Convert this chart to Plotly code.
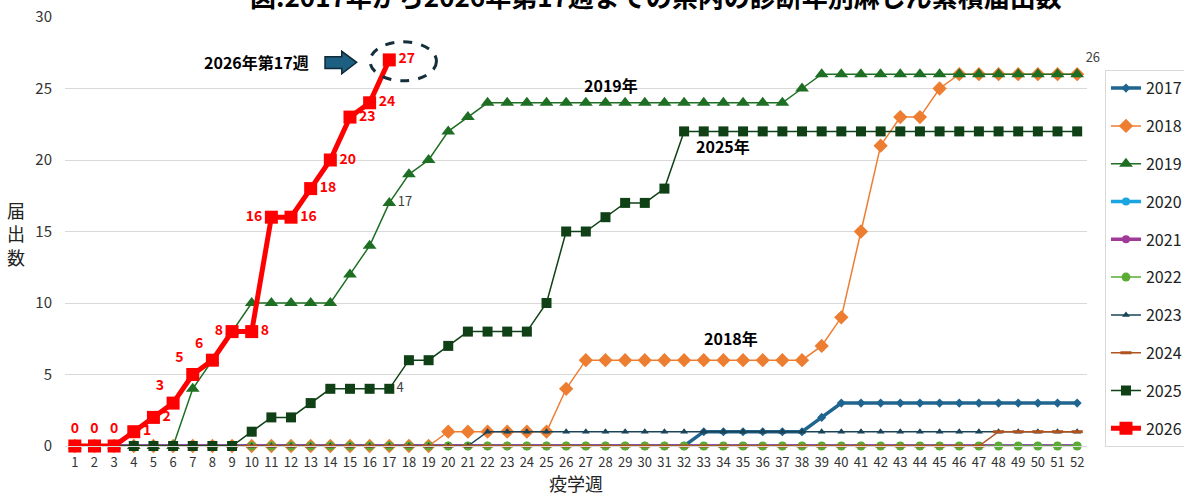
import plotly.graph_objects as go

weeks = [1, 2, 3, 4, 5, 6, 7, 8, 9, 10, 11, 12, 13, 14, 15, 16, 17, 18, 19, 20,
         21, 22, 23, 24, 25, 26, 27, 28, 29, 30, 31, 32, 33, 34, 35, 36, 37, 38, 39, 40,
         41, 42, 43, 44, 45, 46, 47, 48, 49, 50, 51, 52]
tick_labels = [str(w) for w in weeks]

y2017 = [0, 0, 0, 0, 0, 0, 0, 0, 0, 0, 0, 0, 0, 0, 0, 0, 0, 0, 0, 0,
         0, 0, 0, 0, 0, 0, 0, 0, 0, 0, 0, 0, 1, 1, 1, 1, 1, 1, 2, 3,
         3, 3, 3, 3, 3, 3, 3, 3, 3, 3, 3, 3]
y2018 = [0, 0, 0, 0, 0, 0, 0, 0, 0, 0, 0, 0, 0, 0, 0, 0, 0, 0, 0, 1,
         1, 1, 1, 1, 1, 4, 6, 6, 6, 6, 6, 6, 6, 6, 6, 6, 6, 6, 7, 9,
         15, 21, 23, 23, 25, 26, 26, 26, 26, 26, 26, 26]
y2019 = [0, 0, 0, 0, 0, 0, 4, 6, 8, 10, 10, 10, 10, 10, 12, 14, 17, 19, 20, 22,
         23, 24, 24, 24, 24, 24, 24, 24, 24, 24, 24, 24, 24, 24, 24, 24, 24, 25, 26, 26,
         26, 26, 26, 26, 26, 26, 26, 26, 26, 26, 26, 26]
y2020 = [0, 0, 0, 0, 0, 0, 0, 0, 0, 0, 0, 0, 0, 0, 0, 0, 0, 0, 0, 0,
         0, 0, 0, 0, 0, 0, 0, 0, 0, 0, 0, 0, 0, 0, 0, 0, 0, 0, 0, 0,
         0, 0, 0, 0, 0, 0, 0, 0, 0, 0, 0, 0]
y2021 = [0, 0, 0, 0, 0, 0, 0, 0, 0, 0, 0, 0, 0, 0, 0, 0, 0, 0, 0, 0,
         0, 0, 0, 0, 0, 0, 0, 0, 0, 0, 0, 0, 0, 0, 0, 0, 0, 0, 0, 0,
         0, 0, 0, 0, 0, 0, 0, 0, 0, 0, 0, 0]
y2022 = [0, 0, 0, 0, 0, 0, 0, 0, 0, 0, 0, 0, 0, 0, 0, 0, 0, 0, 0, 0,
         0, 0, 0, 0, 0, 0, 0, 0, 0, 0, 0, 0, 0, 0, 0, 0, 0, 0, 0, 0,
         0, 0, 0, 0, 0, 0, 0, 0, 0, 0, 0, 0]
y2023 = [0, 0, 0, 0, 0, 0, 0, 0, 0, 0, 0, 0, 0, 0, 0, 0, 0, 0, 0, 0,
         0, 1, 1, 1, 1, 1, 1, 1, 1, 1, 1, 1, 1, 1, 1, 1, 1, 1, 1, 1,
         1, 1, 1, 1, 1, 1, 1, 1, 1, 1, 1, 1]
y2024 = [0, 0, 0, 0, 0, 0, 0, 0, 0, 0, 0, 0, 0, 0, 0, 0, 0, 0, 0, 0,
         0, 0, 0, 0, 0, 0, 0, 0, 0, 0, 0, 0, 0, 0, 0, 0, 0, 0, 0, 0,
         0, 0, 0, 0, 0, 0, 0, 1, 1, 1, 1, 1]
y2025 = [0, 0, 0, 0, 0, 0, 0, 0, 0, 1, 2, 2, 3, 4, 4, 4, 4, 6, 6, 7,
         8, 8, 8, 8, 10, 15, 15, 16, 17, 17, 18, 22, 22, 22, 22, 22, 22, 22, 22, 22,
         22, 22, 22, 22, 22, 22, 22, 22, 22, 22, 22, 22]
y2026 = [0, 0, 0, 1, 2, 3, 5, 6, 8, 8, 16, 16, 18, 20, 23, 24, 27]

label_pos_2026 = ["top center", "top center", "top center", "middle right", "middle right",
                  "top left", "top left", "top left", "middle left", "middle right",
                  "middle left", "middle right", "middle right", "middle right",
                  "middle right", "middle right", "middle right"]

FONT = "Noto Sans CJK JP"

series = [
    ("2017", y2017, "#1f6590", 3.5, "diamond", 7),
    ("2018", y2018, "#ed7d31", 1.5, "diamond", 11),
    ("2019", y2019, "#1e6f24", 1.5, "triangle-up", 12),
    ("2020", y2020, "#1aa4e0", 3.5, "circle", 8),
    ("2021", y2021, "#a03a98", 3.5, "circle", 8),
    ("2022", y2022, "#5aac34", 1.5, "circle", 9),
    ("2023", y2023, "#1a4457", 1.5, "triangle-up", 7),
    ("2024", y2024, "#b0531e", 1.5, "line-ew", 8),
    ("2025", y2025, "#0f4016", 1.5, "square", 10),
    ("2026", y2026, "#ff0000", 5, "square", 13),
]

fig = go.Figure()
for name, ys, color, lw, sym, ms in series:
    xs = weeks[:len(ys)]
    marker = dict(symbol=sym, size=ms, color=color)
    if sym == "line-ew":
        marker["line"] = dict(width=3, color=color)
    if name == "2026":
        kw = dict(mode="lines+markers+text", text=[str(v) for v in ys],
                  textposition=label_pos_2026,
                  textfont=dict(color="#ff0000", size=14, family=FONT, weight="bold"))
    elif name in ("2019", "2025"):
        txt = ["" for _ in ys]
        pos = ["middle right" for _ in ys]
        txt[16] = str(ys[16])
        if name == "2019":
            txt[51] = str(ys[51])
            pos[51] = "top right"
        kw = dict(mode="lines+markers+text", text=txt, textposition=pos,
                  textfont=dict(color="#404040", size=13, family=FONT))
    else:
        kw = dict(mode="lines+markers")
    fig.add_trace(go.Scatter(x=xs, y=ys, name=name, legendgroup=name,
                             line=dict(color=color, width=lw), marker=marker,
                             cliponaxis=False, **kw))

# dashed ellipse around the latest value
fig.add_shape(type="circle", xref="x", yref="y", x0=16.02, x1=19.40, y0=25.54, y1=28.27,
              line=dict(color="#152e3b", width=3, dash="dash"), fillcolor="rgba(0,0,0,0)")
# block arrow
fig.add_shape(type="path", xref="x", yref="y",
              path="M 13.73,27.22 L 14.58,27.22 L 14.58,27.60 L 15.34,26.83 L 14.58,26.03 L 14.58,26.40 L 13.73,26.40 Z",
              fillcolor="#1d5f80", line=dict(color="#0e2a38", width=1.5))

for txt, xx, yy in [("2026年第17週", 10.25, 26.83), ("2019年", 28.28, 25.24),
                    ("2025年", 33.98, 21.0), ("2018年", 34.39, 7.54)]:
    fig.add_annotation(x=xx, y=yy, xref="x", yref="y", text=txt, showarrow=False,
                       font=dict(family=FONT, size=16, color="#000000", weight="bold"))

# title (partly cut at the top like the original)
fig.add_annotation(x=0.578, y=1.05, xref="paper", yref="paper", xanchor="center", yanchor="middle",
                   text="図.2017年から2026年第17週までの県内の診断年別麻しん累積届出数",
                   showarrow=False, font=dict(family=FONT, size=26, color="#000000", weight="bold"))
# axis titles
fig.add_annotation(x=-0.0482, y=0.496, xref="paper", yref="paper", xanchor="center", yanchor="middle",
                   text="届<br>出<br>数", showarrow=False,
                   font=dict(family=FONT, size=18, color="#222222"))
fig.add_annotation(x=0.5, y=-0.086, xref="paper", yref="paper", xanchor="center", yanchor="middle",
                   text="疫学週", showarrow=False,
                   font=dict(family=FONT, size=18, color="#222222"))

fig.update_layout(
    width=1184, height=495,
    margin=dict(l=65, r=97, t=17, b=49, autoexpand=False),
    plot_bgcolor="white", paper_bgcolor="white",
    font=dict(family=FONT, color="#333333"),
    showlegend=True,
    legend=dict(x=1.0176, y=0.876, xanchor="left", yanchor="top",
                bordercolor="#d9d9d9", borderwidth=1, bgcolor="white",
                font=dict(family=FONT, size=16, color="#222222"),
                tracegroupgap=14, itemsizing="trace"),
    xaxis=dict(range=[0.5, 52.5], tickmode="array", tickvals=weeks, ticktext=tick_labels,
               showgrid=False, zeroline=False, showline=True, linecolor="#d9d9d9",
               ticks="", tickfont=dict(family=FONT, size=13, color="#333333"),
               ticklabelstandoff=4),
    yaxis=dict(range=[0, 30], dtick=5, showgrid=True, gridcolor="#d9d9d9", gridwidth=1,
               zeroline=False, ticks="", tickfont=dict(family=FONT, size=15, color="#333333"),
               ticklabelstandoff=12),
)

fig.write_html("out.html", config={"displayModeBar": False},
               post_script=["document.body.style.margin='0px';"])
